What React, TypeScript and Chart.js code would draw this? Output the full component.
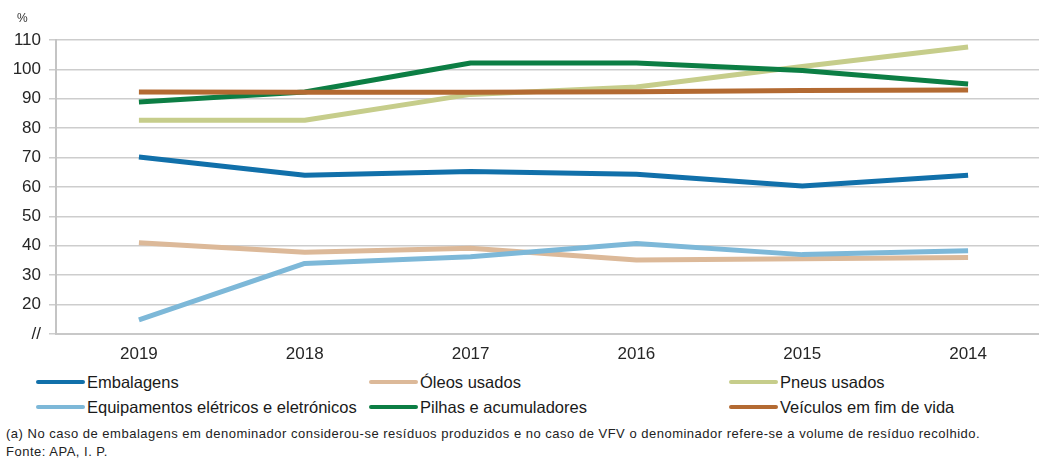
import React, { useEffect, useRef } from "react";
import { Chart, registerables } from "chart.js";

Chart.register(...registerables);

const categories = ["2019", "2018", "2017", "2016", "2015", "2014"];
const embalagens = [70.2, 64.0, 65.3, 64.3, 60.3, 64.0];
const oleosUsados = [41.0, 37.8, 39.2, 35.2, 35.6, 36.0];
const pneusUsados = [82.7, 82.7, 91.5, 94.0, 101.0, 107.6];
const equipamentos = [14.8, 34.0, 36.3, 40.8, 37.0, 38.3];
const pilhas = [88.9, 92.3, 102.2, 102.2, 99.6, 95.0];
const veiculos = [92.3, 92.2, 92.2, 92.4, 92.8, 93.0];
const yTicks = [10, 20, 30, 40, 50, 60, 70, 80, 90, 100, 110];

const seriesNames = [
  "Embalagens",
  "Óleos usados",
  "Pneus usados",
  "Equipamentos elétricos e eletrónicos",
  "Pilhas e acumuladores",
  "Veículos em fim de vida",
];
const seriesValues = [embalagens, oleosUsados, pneusUsados, equipamentos, pilhas, veiculos];
const seriesColors = ["#1170aa", "#dcb999", "#c6cd8b", "#7db8d8", "#0c7e44", "#b36a32"];

const footnote =
  "(a) No caso de embalagens em denominador considerou-se resíduos produzidos e no caso de VFV o denominador refere-se a volume de resíduo recolhido.";
const source = "Fonte: APA, I. P.";

const FONT = '"Liberation Sans", Arial, sans-serif';

export default function App() {
  const canvasRef = useRef<HTMLCanvasElement | null>(null);

  useEffect(() => {
    document.body.style.margin = "0";
    const ctx = canvasRef.current;
    if (!ctx) return;
    const chart = new Chart(ctx, {
      type: "line",
      data: {
        labels: categories,
        datasets: seriesNames.map((name, i) => ({
          label: name,
          data: seriesValues[i],
          borderColor: seriesColors[i],
          backgroundColor: seriesColors[i],
          borderWidth: 5,
          pointRadius: 0,
          pointHoverRadius: 0,
          tension: 0,
          fill: false,
          borderJoinStyle: "round" as const,
          borderCapStyle: "butt" as const,
          order: seriesNames.length - i,
        })),
      },
      options: {
        responsive: false,
        animation: false,
        events: [],
        layout: { padding: { top: 40, left: 0, right: 0, bottom: 0 } },
        plugins: {
          legend: { display: false },
          tooltip: { enabled: false },
          title: { display: false },
        },
        scales: {
          x: {
            type: "category",
            offset: true,
            grid: { display: false, drawTicks: false },
            border: { display: true, color: "#c8c8c8", width: 2 },
            ticks: {
              color: "#262626",
              font: { family: FONT, size: 17 },
              padding: 10,
              maxRotation: 0,
            },
            afterFit: (s: any) => {
              s.height = 31;
            },
          },
          y: {
            min: 10,
            max: 110,
            afterBuildTicks: (s: any) => {
              s.ticks = yTicks.map((v) => ({ value: v }));
            },
            ticks: {
              color: "#262626",
              font: { family: FONT, size: 17 },
              padding: 8,
              callback: (v: any) => (Number(v) === 10 ? "//" : String(v)),
            },
            grid: { color: "#cdcdcd", lineWidth: 1.5, tickLength: 7 },
            border: { display: true, color: "#c4c4c4", width: 2 },
            afterFit: (s: any) => {
              s.width = 56;
            },
          },
        },
      },
    });
    return () => chart.destroy();
  }, []);

  const legendCols = [36, 369, 729];
  const legendRows = [382, 407];

  return (
    <div
      style={{
        position: "absolute",
        left: 0,
        top: 0,
        width: 1039,
        height: 459,
        overflow: "hidden",
        background: "#ffffff",
        fontFamily: FONT,
        color: "#222222",
      }}
    >
      <canvas
        ref={canvasRef}
        width={1051}
        height={365}
        style={{ position: "absolute", left: 0, top: 0, width: 1051, height: 365 }}
      />
      <div
        style={{
          position: "absolute",
          left: 17,
          top: 12,
          fontSize: 12,
          color: "#333",
          lineHeight: "12px",
        }}
      >
        %
      </div>
      {seriesNames.map((name, i) => {
        const col = i % 3;
        const row = Math.floor(i / 3);
        const x = legendCols[col];
        const y = legendRows[row];
        return (
          <div key={name}>
            <div
              style={{
                position: "absolute",
                left: x,
                top: y - 2,
                width: 49,
                height: 4,
                background: seriesColors[i],
                borderRadius: 2,
              }}
            />
            <div
              style={{
                position: "absolute",
                left: x + 51,
                top: y - 10,
                fontSize: 16.5,
                lineHeight: "20px",
                whiteSpace: "nowrap",
                color: "#1a1a1a",
              }}
            >
              {name}
            </div>
          </div>
        );
      })}
      <div
        style={{
          position: "absolute",
          left: 6,
          top: 426,
          fontSize: 13,
          letterSpacing: 0.5,
          lineHeight: "15px",
          whiteSpace: "nowrap",
          color: "#222",
        }}
      >
        {footnote}
      </div>
      <div
        style={{
          position: "absolute",
          left: 6,
          top: 444,
          fontSize: 13,
          letterSpacing: 0.5,
          lineHeight: "15px",
          whiteSpace: "nowrap",
          color: "#222",
        }}
      >
        {source}
      </div>
    </div>
  );
}
